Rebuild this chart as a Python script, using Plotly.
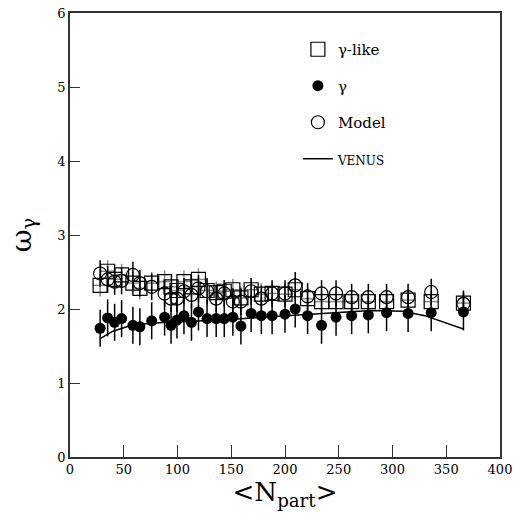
import plotly.graph_objects as go

npart = [28, 35, 41.5, 48, 58.5, 65, 76, 88, 94, 99.5, 106, 113, 119.5, 127.5, 136, 143.5,
         151.5, 159, 168.5, 178, 188, 200, 209.5, 221, 234, 247.5, 262, 277.5, 294.5, 314.5, 336, 366]

gamma_like = [2.32, 2.51, 2.40, 2.46, 2.35, 2.28, 2.35, 2.37, 2.30, 2.25, 2.37, 2.30, 2.40, 2.25, 2.22, 2.24,
              2.26, 2.15, 2.26, 2.20, 2.21, 2.20, 2.26, 2.14, 2.10, 2.10, 2.10, 2.10, 2.10, 2.12, 2.10, 2.08]
gamma_like_err = 0.15

gamma = [1.74, 1.88, 1.82, 1.87, 1.78, 1.76, 1.84, 1.89, 1.78, 1.85, 1.91, 1.82, 1.96, 1.87, 1.87, 1.87,
         1.89, 1.77, 1.94, 1.91, 1.91, 1.93, 2.00, 1.91, 1.78, 1.89, 1.91, 1.92, 1.95, 1.94, 1.95, 1.96]
gamma_err = 0.25

model = [2.48, 2.40, 2.37, 2.38, 2.46, 2.35, 2.30, 2.21, 2.14, 2.14, 2.24, 2.19, 2.28, 2.24, 2.14, 2.21,
         2.10, 2.10, 2.24, 2.14, 2.21, 2.21, 2.32, 2.17, 2.21, 2.21, 2.16, 2.16, 2.16, 2.16, 2.23, 2.07]
model_err = 0.18

venus_x = [28, 40, 55, 70, 90, 110, 140, 170, 200, 240, 280, 310, 330, 366]
venus_y = [1.60, 1.70, 1.77, 1.80, 1.82, 1.83, 1.85, 1.88, 1.91, 1.95, 1.98, 1.97, 1.91, 1.73]

FONT = "DejaVu Serif"

fig = go.Figure()

fig.add_trace(go.Scatter(
    x=npart, y=gamma_like, mode="markers", name="γ-like",
    marker=dict(symbol="square-open", size=14, color="black", line=dict(width=1.2)),
    error_y=dict(type="constant", value=gamma_like_err, color="#888888", thickness=1.5, width=0),
    error_x=dict(type="constant", value=7, color="#888888", thickness=1.5, width=0),
    legendgroup="a",
))
fig.add_trace(go.Scatter(
    x=npart, y=gamma, mode="markers", name="γ",
    marker=dict(symbol="circle", size=11, color="black"),
    error_y=dict(type="constant", value=gamma_err, color="black", thickness=1.5, width=0),
    legendgroup="b",
))
fig.add_trace(go.Scatter(
    x=npart, y=model, mode="markers", name="Model",
    marker=dict(symbol="circle-open", size=13, color="black", line=dict(width=1.2)),
    error_y=dict(type="constant", value=model_err, color="black", thickness=1.5, width=0),
    legendgroup="c",
))
fig.add_trace(go.Scatter(
    x=venus_x, y=venus_y, mode="lines", name="<span style='font-size:12px'>VENUS</span>",
    line=dict(color="black", width=1.5), legendgroup="d",
))

axis_common = dict(
    showgrid=False, zeroline=False, showline=True, linecolor="#333333", linewidth=1.5,
    mirror=True, ticks="inside", tickcolor="#333333", tickwidth=1, automargin=False,
    ticklabeloverflow="allow",
    tickfont=dict(family=FONT, size=13, color="black"),
)

fig.update_layout(
    width=513, height=523,
    margin=dict(l=70, r=13, t=13, b=66),
    paper_bgcolor="white", plot_bgcolor="white",
    font=dict(family=FONT, color="black"),
    showlegend=True,
    legend=dict(
        x=0.53, y=0.955, xanchor="left", yanchor="top",
        font=dict(family=FONT, size=15, color="black"),
        bgcolor="rgba(0,0,0,0)", tracegroupgap=14, itemwidth=30,
        traceorder="grouped",
    ),
    xaxis=dict(range=[0, 400], tickvals=[0, 50, 100, 150, 200, 250, 300, 350, 400], ticklen=12,
               title=dict(text="&lt;N<sub>part</sub>&gt;", font=dict(family=FONT, size=26), standoff=0),
               **axis_common),
    yaxis=dict(range=[0, 6], tickvals=[0, 1, 2, 3, 4, 5, 6], ticklen=10,
               title=dict(text="ω<sub>γ</sub>", font=dict(family=FONT, size=28), standoff=18),
               **axis_common),
)

fig.write_html("out.html")
